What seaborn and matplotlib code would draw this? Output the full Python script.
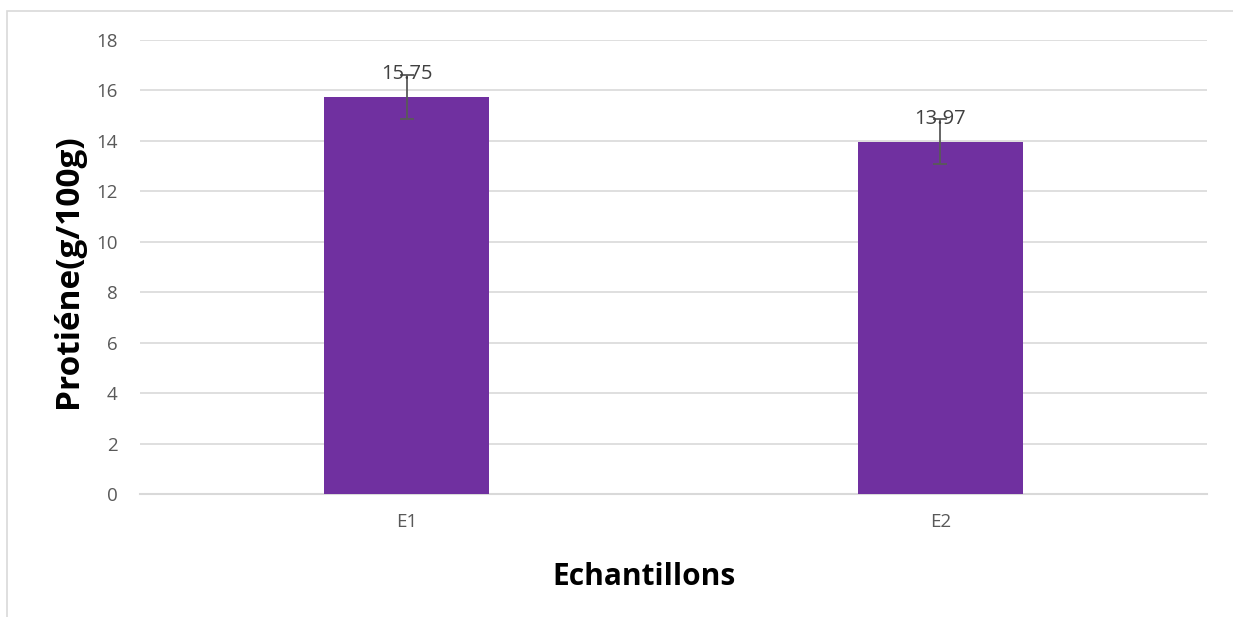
import matplotlib
matplotlib.use("Agg")
import matplotlib.pyplot as plt
import seaborn as sns
import pandas as pd

categories = ["E1", "E2"]
values = [15.75, 13.97]
errors = [0.88, 0.88]
yticks = [0, 2, 4, 6, 8, 10, 12, 14, 16, 18]

sns.set_theme(style="white")
plt.rcParams['font.family'] = ['Open Sans', 'DejaVu Sans']

df = pd.DataFrame({"cat": categories, "val": values})

W, H = 1233, 617
fig = plt.figure(figsize=(W / 100, H / 100), dpi=100)
L, R, T, B = 140, 1207, 40, 494
ax = fig.add_axes([L / W, 1 - B / H, (R - L) / W, (B - T) / H])

sns.barplot(data=df, x="cat", y="val", color="#7030A0", width=0.31, ax=ax,
            errorbar=None, saturation=1, zorder=3)
for p in ax.patches:
    p.set_edgecolor("none")

xs = list(range(len(categories)))
ax.errorbar(xs, values, yerr=errors, fmt="none", ecolor="#595959",
            elinewidth=1.3, capsize=5, capthick=1.3, zorder=4)
for x, v in zip(xs, values):
    ax.text(x, v + 0.7, f"{v:.2f}", ha="center", va="baseline", fontsize=14.5,
            color="#404040", zorder=5)

ax.set_xlim(-0.5, 1.5)
ax.set_ylim(0, 18)
ax.set_yticks(yticks)
ax.set_yticklabels([str(t) for t in yticks], fontsize=13.5, color="#595959")
ax.tick_params(axis='x', labelsize=13.5, labelcolor="#595959", length=0, pad=14)
ax.tick_params(axis='y', length=0, pad=16)
ax.grid(axis='y', color="#d9d9d9", linewidth=1.2, zorder=0)
ax.set_axisbelow(True)
for s in ["top", "right", "left"]:
    ax.spines[s].set_visible(False)
ax.spines["bottom"].set_color("#d9d9d9")
ax.spines["bottom"].set_linewidth(1.5)

ax.set_xlabel("Echantillons", fontsize=21.5, fontweight="bold", color="black")
ax.xaxis.set_label_coords((644 - L) / (R - L), (B - 585) / (B - T))
ax.xaxis.label.set_verticalalignment("baseline")
ax.set_ylabel("Protiéne(g/100g)", fontsize=24, fontweight="bold", color="black")
ax.yaxis.set_label_coords((77 - L) / (R - L), (B - 271) / (B - T))
ax.yaxis.label.set_verticalalignment("baseline")

fig.patches.append(plt.Rectangle((7 / W, -0.1), 1.2, 1 - 11 / H + 0.1,
                                 transform=fig.transFigure, fill=False,
                                 edgecolor="#d9d9d9", linewidth=1.2))

fig.savefig("out.png", dpi=100)
